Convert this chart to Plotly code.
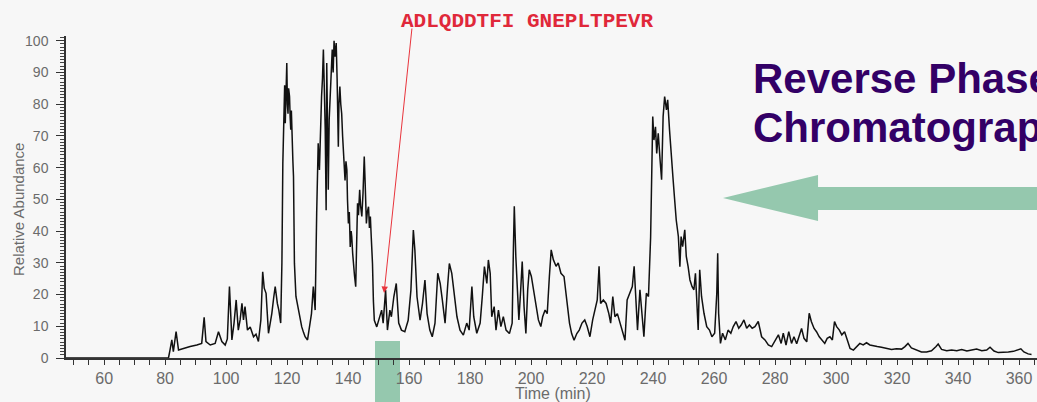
import plotly.graph_objects as go

# Base-peak chromatogram: retention time (min) vs relative abundance (%)
time_min = [
    47.5, 81.1, 81.6, 82.2, 82.7, 83.6, 84.4, 86.0, 88.2, 90.4, 92.0, 92.8, 93.4, 94.8,
    96.4, 97.5, 98.6, 99.7, 100.4, 101.1, 101.9, 102.6, 103.3, 104.0, 104.6, 105.2,
    105.7, 106.2, 107.0, 107.9, 109.0, 109.8, 110.6, 111.4, 112.0, 112.5, 113.1, 113.9,
    115.0, 115.6, 116.1, 116.8, 117.3, 117.9, 118.3, 118.6, 119.0, 119.2, 119.4, 119.6,
    119.9, 120.1, 120.3, 120.5, 120.8, 121.0, 121.2, 121.4, 121.6, 121.9, 122.1, 122.4,
    122.9, 123.7, 124.2, 124.8, 125.4, 125.9, 126.7, 127.5, 128.0, 128.6, 129.2, 129.7,
    130.2, 130.6, 131.0, 131.3, 131.6, 131.9, 132.2, 132.5, 132.8, 133.0, 133.3, 133.5,
    133.8, 134.1, 134.4, 134.8, 135.1, 135.4, 135.7, 136.1, 136.4, 136.8, 137.0, 137.3,
    137.6, 137.9, 138.2, 138.4, 138.7, 139.0, 139.3, 139.6, 139.8, 140.1, 140.4, 140.7,
    141.0, 141.2, 141.5, 141.7, 142.1, 142.5, 142.8, 143.1, 143.4, 143.8, 144.1, 144.5,
    144.9, 145.3, 145.6, 146.0, 146.3, 146.7, 147.0, 147.3, 147.6, 148.0, 148.3, 148.6,
    149.4, 150.1, 151.0, 151.5, 152.3, 152.9, 153.7, 154.2, 155.0, 155.8, 156.6, 157.5,
    158.6, 159.7, 160.6, 161.4, 161.9, 162.6, 163.6, 164.4, 165.2, 165.9, 166.8, 167.6,
    168.5, 169.4, 170.2, 170.9, 171.8, 172.7, 173.2, 174.0, 174.8, 175.7, 176.7, 177.8,
    178.9, 179.7, 180.6, 181.2, 182.2, 183.3, 184.0, 184.7, 185.5, 186.0, 186.6, 187.1,
    187.9, 188.5, 189.3, 190.1, 190.9, 191.8, 192.9, 193.8, 194.2, 194.5, 195.0, 195.5,
    196.0, 196.6, 197.1, 197.7, 198.3, 198.9, 199.4, 200.1, 200.8, 201.6, 202.4, 203.2,
    203.8, 204.6, 205.3, 206.0, 206.6, 207.3, 208.2, 208.9, 209.8, 210.8, 211.7, 212.6,
    213.3, 214.1, 215.0, 215.8, 216.7, 217.6, 218.4, 219.3, 220.2, 221.1, 221.7, 222.3,
    222.8, 223.7, 224.6, 225.5, 226.1, 226.8, 227.5, 228.3, 229.2, 230.0, 230.8, 231.5,
    232.4, 233.2, 233.8, 234.4, 234.9, 235.7, 236.3, 237.0, 237.8, 238.5, 239.2, 239.6,
    239.9, 240.3, 240.8, 241.2, 241.7, 242.3, 242.8, 243.3, 243.8, 244.4, 244.8, 245.4,
    245.9, 246.5, 247.0, 247.6, 248.3, 248.8, 249.2, 249.7, 250.4, 250.9, 251.5, 252.1,
    252.8, 253.4, 253.9, 254.5, 254.8, 255.3, 255.9, 256.7, 257.6, 258.5, 259.3, 260.2,
    260.9, 261.2, 261.5, 262.1, 262.8, 263.7, 264.6, 265.5, 266.3, 267.2, 268.1, 268.9,
    269.8, 270.7, 271.6, 272.5, 273.4, 274.5, 275.6, 276.7, 277.8, 278.9, 280.0, 281.1,
    282.0, 282.7, 283.6, 284.5, 285.4, 286.2, 287.1, 288.0, 288.7, 289.5, 290.4, 291.2,
    291.9, 292.8, 293.6, 294.5, 295.4, 296.3, 297.1, 298.0, 298.8, 299.5, 300.2, 301.1,
    301.9, 302.8, 303.7, 304.6, 305.7, 306.8, 307.8, 308.9, 310.0, 311.1, 312.2, 313.5,
    314.9, 316.5, 318.2, 319.8, 321.5, 322.6, 323.6, 324.7, 326.4, 328.0, 329.7, 331.3,
    332.8, 333.5, 334.6, 336.3, 337.9, 339.6, 341.2, 342.9, 344.5, 346.1, 347.8, 349.4,
    350.5, 351.8, 353.2, 354.9, 356.5, 358.2, 359.5, 360.6, 361.6, 363.0, 364.1,
]

rel_abundance = [
    0, 0, 2.5, 5.7, 2.0, 8.3, 2.5, 3.0, 3.6, 4.1, 4.6, 12.8, 5.2, 4.1,
    4.6, 8.3, 5.2, 4.1, 6.0, 22.5, 5.7, 11, 18.3, 8.8, 12, 17.2,
    12, 16.2, 8.8, 9.8, 6.7, 7.5, 5.2, 12, 27.2, 22, 20.4, 7.8,
    14.1, 19, 22.5, 17.2, 15, 11, 30, 61.4, 79.3, 86, 74, 88,
    93, 80, 77, 85, 82.4, 76, 72, 78, 68.8, 62, 57.2, 29.9,
    19.4, 15.1, 12, 9.8, 8, 6.7, 5.7, 11, 14, 22.5, 15.1, 45.6,
    67.7, 59.3, 75, 82.4, 88, 97.2, 85, 72, 46.6, 93, 70, 53,
    75, 82.4, 92, 97.2, 90, 100, 95, 99.3, 88, 66.6, 80, 85.6,
    80, 77, 70, 65.6, 60, 56, 62, 59.3, 50, 42.4, 46, 35,
    40, 38.2, 33, 29.8, 26, 22.5, 35, 48.8, 45, 53, 48, 44.6,
    52, 63.5, 55, 42.4, 46, 47.7, 41, 44.6, 38, 29.8, 18, 11.9,
    9.8, 11.9, 15.1, 11, 21.4, 8.8, 15.1, 13, 19.3, 23.5, 11, 8.8,
    8.3, 11.9, 21.4, 40.3, 34, 19.3, 11.9, 17.2, 24.6, 14, 8.8, 6.7,
    11, 26.7, 23.5, 18.3, 11, 23.5, 29.8, 26.7, 19.3, 13, 8.8, 7.2,
    11, 8.8, 22.5, 13, 7.8, 11, 19.3, 28.8, 23.5, 30.9, 26.7, 13,
    16.2, 8.8, 15.1, 9.9, 13, 8.8, 7.7, 11, 34.1, 47.8, 32, 23.6,
    12, 21.5, 30.4, 16.2, 7.7, 21.5, 27.8, 25.7, 21.5, 16.2, 12, 9.9,
    13, 15.1, 14, 25.7, 34.1, 31, 28.9, 30, 26.7, 25.7, 18.3, 11,
    7.7, 5.6, 7.7, 8.8, 11, 12, 9.9, 6.7, 12, 16.2, 18.3, 28.9,
    17.2, 18.3, 17.2, 14, 11, 19.4, 13, 14, 11, 8.8, 5.6, 18.3,
    20.4, 22.5, 28.9, 16.2, 8.8, 21.5, 15.1, 6.7, 20.4, 19.4, 38, 61.4,
    76.1, 68.7, 72.9, 64.5, 70.8, 62.5, 56.2, 76.1, 82.4, 78.2, 81.4, 71.9,
    63.5, 57.2, 50.9, 43.5, 38.3, 28.8, 38.3, 35.1, 40.4, 32, 28.8, 24.6,
    22.5, 21.5, 26.7, 16.2, 8.8, 27.8, 19.4, 14.1, 9.9, 8.8, 6.7, 7.8,
    20.4, 33, 14.1, 4.6, 7.8, 5.7, 8.8, 7.8, 9.9, 11.5, 9.4, 10.4,
    12, 9.4, 10.4, 9.4, 9.9, 11.5, 6.7, 5.7, 4.1, 3.6, 5.7, 7.3,
    4.6, 7.8, 4.1, 8.3, 4.6, 6.7, 4.5, 7.7, 9.3, 6.2, 5.1, 14.1,
    11.5, 9.3, 8.3, 6.7, 5.7, 4.6, 6.2, 6.7, 5.7, 11.5, 9.9, 8.8,
    7.3, 8.3, 5.7, 3, 2.5, 3.6, 4.6, 4.1, 4.8, 4.1, 3.8, 3.6,
    3.4, 3, 2.7, 2.9, 2.8, 3.6, 4.6, 3.2, 2.5, 1.9, 1.9, 2.3,
    3.6, 4.4, 2.7, 2.3, 2.5, 2.3, 2.7, 2.2, 2.5, 2.8, 2.3, 2.5,
    3.4, 2.2, 1.7, 1.7, 1.9, 2.1, 2.5, 2.9, 1.9, 1.3, 1.1,
]

x_tick_labels = [60, 80, 100, 120, 140, 160, 180, 200, 220, 240, 260, 280, 300, 320, 340, 360]
y_tick_labels = [0, 10, 20, 30, 40, 50, 60, 70, 80, 90, 100]

peptide_label = "ADLQDDTFI GNEPLTPEVR"
peptide_time = 151.8
peptide_abundance = 20.5

title_lines = ["Reverse Phase", "Chromatography"]

# page geometry (pixels)
W, H = 1037, 402
ML, MR, MT, MB = 66, 0, 36, 44
PW, PH = W - ML - MR, H - MT - MB


def fx(px):
    return (px - ML) / PW


def fy(py):
    return (H - MB - py) / PH


BG = "#f7f7f7"
GREEN = "#95c8ae"
PURPLE = "#330066"
TICK_GRAY = "#6b6b6b"
SANS = "Liberation Sans, Arial, sans-serif"

fig = go.Figure()
fig.add_trace(go.Scatter(
    x=time_min, y=rel_abundance, mode="lines",
    line=dict(color="#111111", width=1.5),
    hoverinfo="skip", showlegend=False,
))

# green bar under the time axis
fig.add_shape(type="rect", xref="paper", yref="paper",
              x0=fx(375), x1=fx(400), y0=fy(405), y1=fy(341),
              fillcolor=GREEN, line=dict(width=0), layer="below")

# big left-pointing arrow
pts = [(723, 198), (818, 175), (818, 187), (1045, 187), (1045, 210), (818, 210), (818, 221)]
path = "M " + " L ".join(f"{fx(a):.4f},{fy(b):.4f}" for a, b in pts) + " Z"
fig.add_shape(type="path", xref="paper", yref="paper", path=path,
              fillcolor=GREEN, line=dict(width=0), layer="above")

annotations = [
    dict(text=f"<b>{peptide_label}</b>", xref="paper", yref="paper",
         x=fx(527), y=fy(21), xanchor="center", yanchor="middle", showarrow=False,
         font=dict(family="Liberation Mono, Courier New, monospace", size=21, color="#e0283a")),
    dict(text="", x=peptide_time, y=peptide_abundance, xref="x", yref="y",
         showarrow=True, ax=28, ay=-266, axref="pixel", ayref="pixel",
         arrowhead=2, arrowsize=1.3, arrowwidth=1, arrowcolor="#e8343c"),
    dict(text=f"<b>{title_lines[0]}</b>", xref="paper", yref="paper",
         x=fx(751), y=fy(78), xanchor="left", yanchor="middle", showarrow=False,
         font=dict(family=SANS, size=42, color=PURPLE)),
    dict(text=f"<b>{title_lines[1]}</b>", xref="paper", yref="paper",
         x=fx(751), y=fy(127), xanchor="left", yanchor="middle", showarrow=False,
         font=dict(family=SANS, size=42, color=PURPLE)),
    dict(text="Relative Abundance", xref="paper", yref="paper",
         x=fx(18), y=fy(210), xanchor="center", yanchor="middle", showarrow=False,
         textangle=-90, font=dict(family=SANS, size=15, color=TICK_GRAY)),
    dict(text="Time (min)", xref="paper", yref="paper",
         x=fx(553), y=fy(393), xanchor="center", yanchor="middle", showarrow=False,
         font=dict(family=SANS, size=16, color=TICK_GRAY)),
]

fig.update_layout(
    width=W, height=H,
    margin=dict(l=ML, r=MR, t=MT, b=MB, pad=0),
    paper_bgcolor=BG, plot_bgcolor="rgba(0,0,0,0)",
    annotations=annotations,
    xaxis=dict(
        range=[47.5, 365.9], showgrid=False, zeroline=False,
        showline=True, linecolor="#333333", linewidth=1.5,
        tickmode="array", tickvals=x_tick_labels, ticktext=[str(v) for v in x_tick_labels],
        ticks="outside", ticklen=5, tickcolor="#333333", tickwidth=1,
        minor=dict(dtick=5, tick0=0, ticks="outside", ticklen=5, tickcolor="#333333", tickwidth=1),
        tickfont=dict(family=SANS, size=16, color=TICK_GRAY),
    ),
    yaxis=dict(
        range=[0, 101.5], showgrid=False, zeroline=False,
        showline=True, linecolor="#333333", linewidth=1.5,
        tickmode="array", tickvals=y_tick_labels, ticktext=[str(v) for v in y_tick_labels],
        ticks="outside", ticklen=8, tickcolor="#333333", tickwidth=1,
        ticklabelstandoff=5,
        minor=dict(dtick=1, tick0=0, ticks="outside", ticklen=4, tickcolor="#444444", tickwidth=1),
        tickfont=dict(family=SANS, size=14, color=TICK_GRAY),
    ),
)

fig.write_html("out.html")
